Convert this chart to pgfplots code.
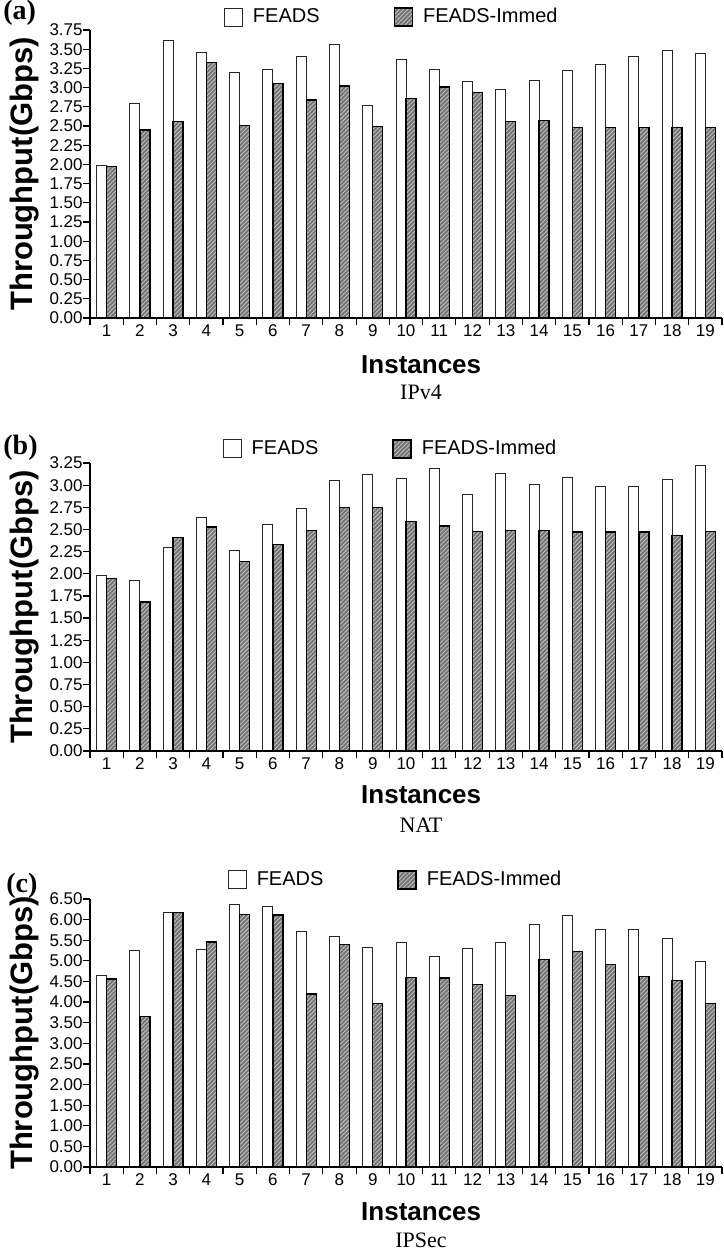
\documentclass[border=0pt]{standalone}
\usepackage{fontspec}
\setmainfont{Liberation Serif}
\setsansfont{Liberation Sans}
\usepackage{pgfplots}
\pgfplotsset{compat=1.18}
\usetikzlibrary{patterns,patterns.meta}

\pgfplotsset{
  whitebar/.style={fill=white, draw=black!85, line width=0.5pt},
  graybar/.style={fill=black!55, draw=black, line width=0.7pt,
    postaction={pattern={Lines[angle=45,distance=1.5pt,line width=0.45pt]}, pattern color=black!25}},
  panel/.style={
    width=316pt, scale only axis, anchor=south west,
    xmin=0.5, xmax=19.5, ymin=0,
    axis lines*=left, axis on top,
    ybar=0pt, bar width=5pt,
    xtick={0.5,1.5,...,19.5}, xticklabels={},
    extra x ticks={1,2,...,19},
    extra x tick style={major tick length=0pt, grid=none},
    tick align=outside, major tick length=3.5pt,
    tick style={black, line width=0.6pt},
    axis line style={black, line width=0.8pt},
    tick label style={font=\sffamily\fontsize{8.5}{10}\selectfont},
    y tick label style={inner sep=0pt},
    /pgf/number format/assume math mode=true,
    yticklabel style={/pgf/number format/fixed, /pgf/number format/fixed zerofill, /pgf/number format/precision=2},
    xlabel={Instances}, ylabel={Throughput(Gbps)},
    xlabel style={font=\sffamily\bfseries\fontsize{13}{14}\selectfont, anchor=center},
    ylabel style={font=\sffamily\bfseries\fontsize{15.5}{16}\selectfont, at={(axis description cs:-0.104,0.5)}, anchor=center},
    legend columns=2,
    legend style={draw=none, fill=none, font=\sffamily\fontsize{10}{12}\selectfont, inner sep=0pt, outer sep=0pt, anchor=west,
      /tikz/every even column/.append style={column sep=35pt},
      /tikz/every odd column/.append style={column sep=3pt}},
    legend image code/.code={\draw[#1] (0pt,-4.5pt) rectangle (9pt,4.5pt);},
  }
}

\begin{document}
\begin{tikzpicture}
\useasboundingbox (0,0) rectangle (361.5pt,-626.5pt);

% (a) IPv4
\begin{axis}[panel, at={(45pt,-159pt)}, height=144pt, ymax=3.75, ytick distance=0.25,
  xlabel style={at={(axis description cs:0.524,-0.163)}},
  legend style={at={(axis description cs:0.212,1.045)}}]
\addplot[whitebar] coordinates {(1,1.98) (2,2.79) (3,3.61) (4,3.46) (5,3.20) (6,3.23) (7,3.41) (8,3.56) (9,2.77) (10,3.36) (11,3.23) (12,3.08) (13,2.98) (14,3.09) (15,3.22) (16,3.30) (17,3.41) (18,3.48) (19,3.45)};
\addplot[graybar] coordinates {(1,1.97) (2,2.45) (3,2.56) (4,3.33) (5,2.51) (6,3.05) (7,2.84) (8,3.02) (9,2.49) (10,2.86) (11,3.01) (12,2.94) (13,2.56) (14,2.57) (15,2.48) (16,2.48) (17,2.48) (18,2.48) (19,2.48)};
\legend{FEADS,FEADS-Immed}
\end{axis}

% (b) NAT
\begin{axis}[panel, at={(45pt,-375.5pt)}, height=144pt, ymax=3.25, ytick distance=0.25,
  xlabel style={at={(axis description cs:0.524,-0.153)}},
  legend style={at={(axis description cs:0.210,1.049)}}]
\addplot[whitebar] coordinates {(1,1.98) (2,1.92) (3,2.30) (4,2.64) (5,2.26) (6,2.56) (7,2.74) (8,3.05) (9,3.12) (10,3.07) (11,3.19) (12,2.89) (13,3.13) (14,3.01) (15,3.09) (16,2.98) (17,2.98) (18,3.06) (19,3.22)};
\addplot[graybar] coordinates {(1,1.95) (2,1.68) (3,2.41) (4,2.53) (5,2.14) (6,2.33) (7,2.49) (8,2.75) (9,2.75) (10,2.59) (11,2.54) (12,2.48) (13,2.49) (14,2.49) (15,2.47) (16,2.47) (17,2.47) (18,2.43) (19,2.48)};
\legend{FEADS,FEADS-Immed}
\end{axis}

% (c) IPSec
\begin{axis}[panel, at={(45pt,-583.5pt)}, height=134pt, ymax=6.5, ytick distance=0.5,
  xlabel style={at={(axis description cs:0.524,-0.168)}},
  legend style={at={(axis description cs:0.218,1.071)}}]
\addplot[whitebar] coordinates {(1,4.65) (2,5.24) (3,6.18) (4,5.28) (5,6.37) (6,6.31) (7,5.72) (8,5.58) (9,5.32) (10,5.44) (11,5.11) (12,5.31) (13,5.45) (14,5.88) (15,6.09) (16,5.77) (17,5.76) (18,5.54) (19,4.98)};
\addplot[graybar] coordinates {(1,4.56) (2,3.65) (3,6.18) (4,5.46) (5,6.13) (6,6.11) (7,4.20) (8,5.40) (9,3.96) (10,4.59) (11,4.58) (12,4.42) (13,4.16) (14,5.03) (15,5.22) (16,4.91) (17,4.62) (18,4.52) (19,3.96)};
\legend{FEADS,FEADS-Immed}
\end{axis}

\node[anchor=west, inner sep=0pt, font=\rmfamily\bfseries\fontsize{14}{16}\selectfont] at (1.5pt,-6.5pt) {(a)};
\node[anchor=west, inner sep=0pt, font=\rmfamily\bfseries\fontsize{14}{16}\selectfont] at (1.5pt,-224pt) {(b)};
\node[anchor=west, inner sep=0pt, font=\rmfamily\bfseries\fontsize{14}{16}\selectfont] at (3pt,-443pt) {(c)};

\node[inner sep=0pt, font=\rmfamily\fontsize{11}{13}\selectfont] at (210.5pt,-196pt) {IPv4};
\node[inner sep=0pt, font=\rmfamily\fontsize{11}{13}\selectfont] at (210.5pt,-412.5pt) {NAT};
\node[inner sep=0pt, font=\rmfamily\fontsize{11}{13}\selectfont] at (210.5pt,-620pt) {IPSec};
\end{tikzpicture}
\end{document}
